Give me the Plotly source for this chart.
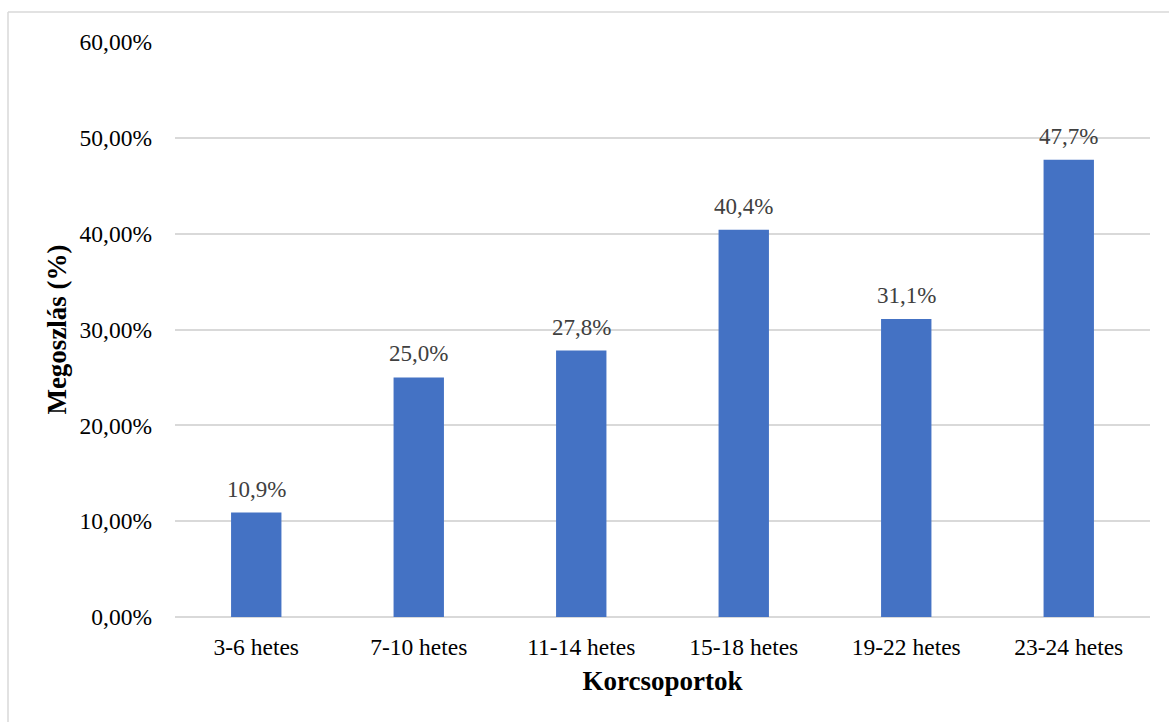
import plotly.graph_objects as go

# Age groups (weeks) and share values in percent
categories = ["3-6 hetes", "7-10 hetes", "11-14 hetes", "15-18 hetes", "19-22 hetes", "23-24 hetes"]
shares = [10.9, 25.0, 27.8, 40.4, 31.1, 47.7]
y_ticks = [0, 10, 20, 30, 40, 50, 60]
y_tick_labels = ["0,00%", "10,00%", "20,00%", "30,00%", "40,00%", "50,00%", "60,00%"]

FONT = "Liberation Serif, Times New Roman, serif"
W, H = 1169, 722
L, R, T, B = 175, 19, 42, 105
pw, ph = W - L - R, H - T - B

fig = go.Figure()
fig.add_trace(go.Bar(
    x=categories, y=shares,
    marker=dict(color="#4472C4", line=dict(width=0)),
    width=0.31,
    hoverinfo="skip",
))

# Value labels above each bar
for c, v in zip(categories, shares):
    fig.add_annotation(
        x=c, y=v, text=f"{v:.1f}%".replace(".", ","),
        showarrow=False, yanchor="bottom", yshift=9,
        font=dict(family=FONT, size=23, color="#404040"),
    )

# Chart frame (left and top edges)
bx = (8 - L) / pw
by = 1 + (T - 12) / ph
fig.add_shape(type="line", xref="paper", yref="paper", x0=bx, y0=by, x1=1.2, y1=by,
              line=dict(color="#d9d9d9", width=1.5))
fig.add_shape(type="line", xref="paper", yref="paper", x0=bx, y0=by, x1=bx, y1=-0.5,
              line=dict(color="#d9d9d9", width=1.5))

fig.update_layout(
    width=W, height=H,
    margin=dict(l=L, r=R, t=T, b=B),
    paper_bgcolor="white", plot_bgcolor="white",
    showlegend=False,
    font=dict(family=FONT, size=23, color="black"),
    xaxis=dict(
        showgrid=False, showline=False, zeroline=False,
        ticks="", ticklabelstandoff=13,
        tickfont=dict(family=FONT, size=23.5, color="black"),
        title=dict(text="<b>Korcsoportok</b>", font=dict(family=FONT, size=27, color="black"), standoff=12),
    ),
    yaxis=dict(
        range=[0, 60], tickvals=y_ticks, ticktext=y_tick_labels,
        showgrid=True, gridcolor="#d9d9d9", gridwidth=1.5,
        zeroline=True, zerolinecolor="#d9d9d9", zerolinewidth=1.5,
        showline=False, ticks="", ticklabelstandoff=22,
        tickfont=dict(family=FONT, size=23.5, color="black"),
        title=dict(text="<b>Megoszlás (%)</b>", font=dict(family=FONT, size=27, color="black"), standoff=5),
    ),
)

fig.write_html("out.html")
